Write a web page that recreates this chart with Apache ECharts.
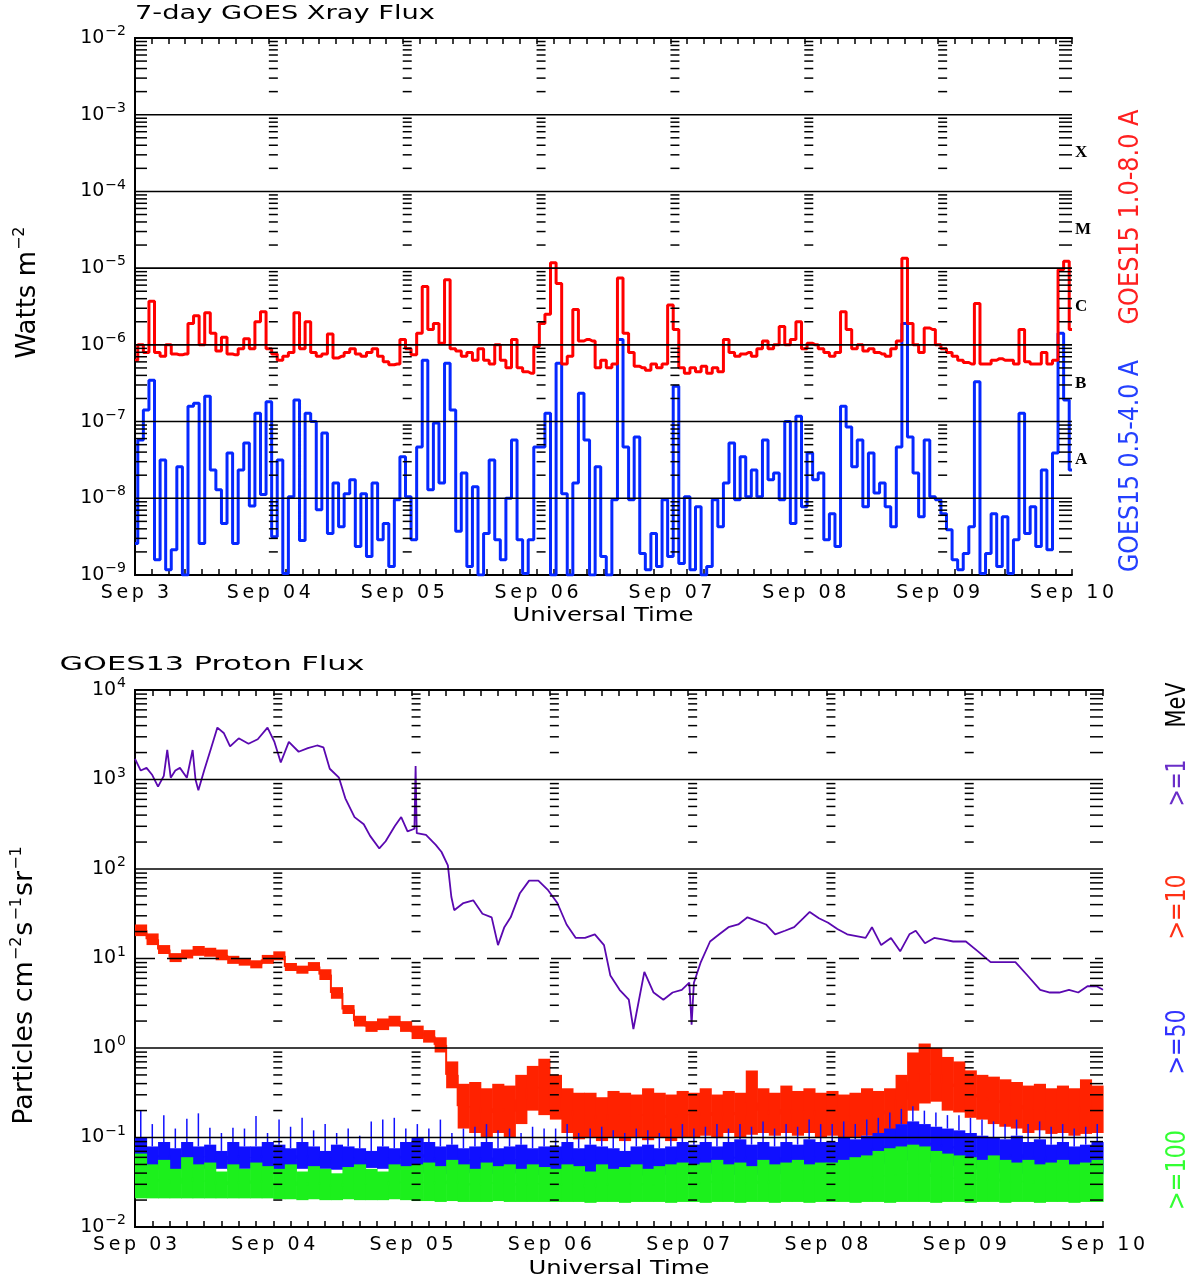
<!DOCTYPE html>
<html>
<head>
<meta charset="utf-8">
<title>GOES Xray / Proton Flux</title>
<script src="https://cdn.jsdelivr.net/npm/echarts@6/dist/echarts.min.js"></script>
<style>
    html, body { margin: 0; padding: 0; background: #fff; }
    #chart { width: 1196px; height: 1281px; }
</style>
</head>
<body>
<div id="chart"></div>
<script>
/* ========== data (log10 values, hours from Sep 3 00:00 UT) ========== */

const xrayDays = ["Sep 3", "Sep 04", "Sep 05", "Sep 06", "Sep 07", "Sep 08", "Sep 09", "Sep 10"];
const protonDays = ["Sep 03", "Sep 04", "Sep 05", "Sep 06", "Sep 07", "Sep 08", "Sep 09", "Sep 10"];
const flareClasses = [["X", -3.5], ["M", -4.5], ["C", -5.5], ["B", -6.5], ["A", -7.5]];
const xrayDecades = [-8, -7, -6, -5, -4, -3];
const protonDecades = [3, 2, 1, 0, -1];
const protonDashed = [1];

// GOES15 1.0-8.0 A, hourly
const xrayLong = [
    -6.20, -6.00, -6.10, -5.43, -6.10, -6.15, -6.00, -6.12, -6.13, -6.12,
    -5.72, -5.62, -6.00, -5.58, -5.85, -6.08, -5.90, -6.12, -6.13, -6.05,
    -5.92, -6.05, -5.70, -5.57, -6.05, -6.12, -6.20, -6.15, -6.10, -5.58,
    -6.05, -5.70, -6.10, -6.15, -6.12, -5.86, -6.17, -6.15, -6.10, -6.05,
    -6.12, -6.15, -6.10, -6.05, -6.15, -6.22, -6.26, -6.25, -5.93, -6.05,
    -6.13, -5.85, -5.24, -5.80, -5.72, -5.98, -5.15, -6.05, -6.08, -6.15,
    -6.10, -6.20, -6.05, -6.20, -6.25, -6.00, -6.20, -6.30, -5.93, -6.30,
    -6.35, -6.37, -6.02, -5.72, -5.60, -4.93, -5.20, -6.25, -6.15, -5.54,
    -5.95, -5.93, -5.95, -6.30, -6.20, -6.30, -6.25, -5.13, -5.85, -6.10,
    -6.28, -6.30, -6.33, -6.25, -6.30, -6.25, -5.48, -5.80, -6.30, -6.37,
    -6.30, -6.35, -6.28, -6.37, -6.30, -6.35, -5.93, -6.10, -6.15, -6.12,
    -6.10, -6.15, -6.05, -5.95, -6.05, -6.00, -5.76, -6.00, -5.93, -5.70,
    -6.05, -5.98, -6.00, -6.05, -6.10, -6.15, -6.10, -5.57, -5.80, -6.05,
    -6.00, -6.08, -6.05, -6.10, -6.12, -6.15, -6.05, -5.95, -4.87, -5.72,
    -6.00, -6.10, -5.78, -5.80, -6.00, -6.05, -6.10, -6.15, -6.20, -6.23,
    -6.25, -5.46, -6.25, -6.25, -6.20, -6.18, -6.20, -6.20, -6.25, -5.80,
    -6.22, -6.25, -6.25, -6.10, -6.25, -6.20, -5.02, -4.91, -5.80
];

// GOES15 0.5-4.0 A, hourly
const xrayShort = [
    -8.59, -7.24, -6.85, -6.46, -8.80, -7.50, -8.93, -8.67, -7.59, -9.00,
    -6.80, -6.76, -8.59, -6.67, -7.63, -7.89, -8.33, -7.41, -8.59, -7.63,
    -7.28, -8.10, -6.89, -7.95, -6.74, -8.50, -7.50, -8.98, -7.98, -6.72,
    -8.55, -6.89, -7.00, -8.15, -7.15, -8.46, -7.80, -8.37, -7.94, -7.76,
    -8.63, -7.94, -8.76, -7.80, -8.54, -8.33, -8.89, -8.02, -7.46, -7.98,
    -8.54, -7.33, -6.20, -7.89, -7.02, -7.80, -6.24, -6.85, -8.43, -7.67,
    -8.89, -7.85, -9.00, -8.46, -7.50, -8.54, -8.80, -8.00, -7.24, -8.54,
    -8.98, -8.54, -7.33, -7.33, -6.89, -9.00, -6.24, -7.94, -9.00, -7.80,
    -6.63, -7.24, -9.00, -7.59, -8.76, -9.00, -8.02, -5.93, -7.33, -8.02,
    -7.20, -8.72, -8.93, -8.46, -8.89, -8.02, -8.76, -6.54, -8.85, -7.98,
    -8.93, -8.11, -9.00, -8.89, -8.02, -8.37, -7.80, -7.28, -8.02, -7.46,
    -7.98, -7.63, -7.98, -7.24, -7.76, -7.67, -8.02, -7.00, -8.33, -6.93,
    -8.11, -7.41, -7.76, -7.67, -8.54, -8.20, -8.63, -6.80, -7.07, -7.59,
    -7.24, -8.11, -7.41, -7.93, -7.80, -8.11, -8.37, -7.33, -5.72, -7.20,
    -7.67, -8.24, -7.24, -7.98, -8.02, -8.20, -8.41, -8.80, -8.93, -8.72,
    -8.37, -6.48, -8.98, -8.72, -8.20, -8.89, -8.24, -8.98, -8.54, -6.89,
    -8.46, -8.11, -8.63, -7.63, -8.67, -7.41, -5.85, -6.72, -7.63
];

// GOES13 >=1 MeV, [hour, log10 flux]
const proton1 = [
    [0, 3.23], [1, 3.10], [2, 3.13], [3, 3.05], [4, 2.92], [5, 3.04], [5.6, 3.33], [6.2, 3.02], [7, 3.10], [7.8, 3.13],
    [9, 3.02], [10, 3.33], [10.5, 3.00], [11, 2.88], [12, 3.10], [13.2, 3.35], [14.3, 3.58], [15.4, 3.52], [16.5, 3.37], [18, 3.46],
    [19.7, 3.40], [21.3, 3.45], [23, 3.58], [24.2, 3.42], [25.3, 3.19], [26.7, 3.42], [28.4, 3.31], [30, 3.35], [31.6, 3.38], [32.7, 3.36],
    [33.8, 3.12], [35.4, 3.02], [36.5, 2.79], [38.1, 2.58], [39.7, 2.50], [40.8, 2.37], [42.4, 2.23], [43.5, 2.31], [45.1, 2.48], [46.2, 2.58],
    [47.3, 2.42], [48.5, 2.45], [48.7, 3.15], [48.9, 2.40], [50.5, 2.38], [52.2, 2.27], [53.2, 2.19], [54.3, 2.04], [54.9, 1.69], [55.4, 1.54],
    [57, 1.62], [58.7, 1.65], [60.3, 1.50], [61.9, 1.46], [63, 1.15], [64.1, 1.35], [65.2, 1.46], [66.8, 1.73], [68.4, 1.87], [70, 1.87],
    [71.6, 1.77], [73.3, 1.62], [74.9, 1.38], [76.5, 1.23], [78.1, 1.23], [79.8, 1.27], [81.4, 1.15], [82.5, 0.81], [84.1, 0.65], [85.7, 0.54],
    [86.5, 0.21], [87, 0.38], [88.4, 0.85], [90, 0.62], [91.7, 0.54], [93.3, 0.62], [94.9, 0.65], [96.2, 0.73], [96.6, 0.26], [97, 0.73],
    [98.2, 0.96], [99.8, 1.19], [101.4, 1.27], [103, 1.35], [104.7, 1.38], [106.3, 1.46], [107.9, 1.42], [109.5, 1.38], [111.1, 1.27], [112.8, 1.31],
    [114.4, 1.35], [116, 1.45], [117.1, 1.52], [118.7, 1.45], [120.3, 1.40], [121.9, 1.33], [123.6, 1.27], [125.2, 1.25], [126.8, 1.23], [127.9, 1.35],
    [129.5, 1.15], [131.2, 1.23], [132.8, 1.08], [134.4, 1.27], [135.5, 1.31], [137.1, 1.17], [138.7, 1.23], [140.4, 1.21], [142, 1.19], [144.2, 1.19],
    [146.3, 1.08], [148.5, 0.96], [150.6, 0.96], [152.8, 0.96], [154.9, 0.81], [157.1, 0.65], [158.8, 0.62], [160.4, 0.62], [162.1, 0.65], [163.7, 0.62],
    [165.3, 0.69], [166.9, 0.69], [168, 0.65]
];

// >=10 MeV, 2-hour bins: low / high of the noisy trace (one row per day)
const proton10Lo = [
    1.25, 1.15, 1.05, 0.96, 1.00, 1.03, 1.02, 0.98, 0.94, 0.92, 0.89, 0.94,
    0.98, 0.86, 0.83, 0.86, 0.76, 0.55, 0.38, 0.24, 0.18, 0.20, 0.24, 0.18,
    0.10, 0.06, -0.05, -0.45, -0.90, -0.95, -1.00, -0.95, -1.00, -0.85, -0.70, -0.75,
    -0.80, -0.95, -1.02, -1.00, -1.04, -1.00, -1.04, -1.00, -1.03, -1.00, -1.04, -1.00,
    -1.00, -0.98, -1.00, -0.95, -1.00, -0.97, -0.95, -0.98, -0.95, -0.98, -0.95, -1.00,
    -0.98, -1.00, -1.00, -0.98, -1.00, -0.95, -0.85, -0.70, -0.62, -0.60, -0.70, -0.72,
    -0.78, -0.80, -0.85, -0.88, -0.90, -0.95, -0.92, -0.96, -0.95, -0.98, -0.96, -0.95
];
const proton10Hi = [
    1.38, 1.28, 1.15, 1.06, 1.10, 1.14, 1.12, 1.10, 1.03, 1.00, 0.98, 1.04,
    1.08, 0.95, 0.92, 0.96, 0.88, 0.68, 0.48, 0.36, 0.30, 0.33, 0.36, 0.30,
    0.25, 0.20, 0.12, -0.15, -0.40, -0.38, -0.45, -0.40, -0.42, -0.30, -0.20, -0.12,
    -0.30, -0.45, -0.50, -0.50, -0.55, -0.48, -0.50, -0.52, -0.45, -0.50, -0.52, -0.48,
    -0.50, -0.45, -0.52, -0.48, -0.50, -0.25, -0.45, -0.50, -0.42, -0.48, -0.45, -0.50,
    -0.48, -0.52, -0.50, -0.45, -0.48, -0.45, -0.30, -0.05, 0.05, 0.00, -0.10, -0.15,
    -0.25, -0.30, -0.32, -0.35, -0.38, -0.42, -0.40, -0.45, -0.42, -0.45, -0.35, -0.42
];

// >=50 MeV, 2-hour bins: floor / body top / spike top
const proton50Lo = [
    -1.35, -1.34, -1.35, -1.36, -1.35, -1.34, -1.35, -1.35, -1.36, -1.35, -1.34, -1.35,
    -1.36, -1.35, -1.35, -1.34, -1.35, -1.36, -1.35, -1.35, -1.34, -1.35, -1.35, -1.36,
    -1.38, -1.40, -1.40, -1.41, -1.40, -1.39, -1.40, -1.41, -1.40, -1.40, -1.42, -1.40,
    -1.41, -1.42, -1.40, -1.42, -1.41, -1.42, -1.42, -1.43, -1.42, -1.41, -1.42, -1.42,
    -1.42, -1.41, -1.40, -1.42, -1.41, -1.40, -1.42, -1.41, -1.40, -1.41, -1.40, -1.39,
    -1.38, -1.36, -1.35, -1.32, -1.30, -1.28, -1.26, -1.25, -1.27, -1.28, -1.30, -1.32,
    -1.34, -1.36, -1.38, -1.40, -1.40, -1.41, -1.40, -1.42, -1.41, -1.40, -1.42, -1.41
];
const proton50Hi = [
    -1.00, -1.10, -1.05, -1.12, -1.05, -1.10, -1.08, -1.15, -1.05, -1.10, -1.10, -1.05,
    -1.08, -1.12, -1.05, -1.10, -1.15, -1.08, -1.10, -1.12, -1.15, -1.10, -1.12, -1.05,
    -1.00, -1.05, -1.10, -1.08, -1.12, -1.10, -1.05, -1.12, -1.10, -1.08, -1.12, -1.10,
    -1.10, -1.05, -1.12, -1.08, -1.10, -1.12, -1.15, -1.10, -1.08, -1.12, -1.10, -1.05,
    -1.08, -1.05, -1.10, -1.05, -1.02, -1.08, -1.05, -1.10, -1.05, -1.08, -1.02, -1.05,
    -1.05, -1.00, -1.02, -0.98, -0.95, -0.90, -0.85, -0.82, -0.85, -0.88, -0.90, -0.92,
    -0.95, -0.98, -1.00, -1.02, -0.98, -1.05, -1.02, -1.08, -1.05, -1.10, -1.08, -1.05
];
const proton50Peak = [
    -0.70, -0.85, -0.75, -0.90, -0.79, -0.73, -0.89, -0.95, -0.89, -0.90, -0.76, -0.95,
    -0.80, -0.88, -0.78, -0.92, -0.85, -0.95, -0.90, -0.98, -0.82, -0.80, -0.78, -0.90,
    -0.85, -0.90, -0.80, -0.95, -0.90, -0.88, -0.85, -0.92, -0.90, -0.95, -0.88, -0.90,
    -0.90, -0.85, -0.95, -0.90, -0.88, -0.92, -0.95, -0.90, -0.92, -0.95, -0.90, -0.85,
    -0.90, -0.88, -0.85, -0.90, -0.85, -0.88, -0.82, -0.90, -0.85, -0.88, -0.80, -0.85,
    -0.85, -0.82, -0.85, -0.80, -0.78, -0.72, -0.68, -0.65, -0.70, -0.72, -0.75, -0.75,
    -0.78, -0.80, -0.82, -0.85, -0.80, -0.85, -0.82, -0.88, -0.85, -0.90, -0.88, -0.85
];

// >=100 MeV, 2-hour bins: floor / top
const proton100Lo = [
    -1.68, -1.68, -1.68, -1.68, -1.68, -1.68, -1.68, -1.68, -1.68, -1.68, -1.68, -1.68,
    -1.69, -1.69, -1.70, -1.69, -1.70, -1.70, -1.69, -1.70, -1.70, -1.70, -1.69, -1.70,
    -1.71, -1.71, -1.72, -1.71, -1.72, -1.72, -1.72, -1.71, -1.72, -1.72, -1.72, -1.72,
    -1.72, -1.72, -1.72, -1.73, -1.72, -1.72, -1.73, -1.72, -1.72, -1.72, -1.73, -1.72,
    -1.72, -1.73, -1.72, -1.72, -1.73, -1.72, -1.72, -1.73, -1.72, -1.72, -1.73, -1.72,
    -1.72, -1.72, -1.73, -1.72, -1.72, -1.73, -1.72, -1.72, -1.72, -1.73, -1.72, -1.72,
    -1.73, -1.72, -1.72, -1.73, -1.72, -1.72, -1.73, -1.72, -1.72, -1.73, -1.72, -1.72
];
const proton100Hi = [
    -1.18, -1.30, -1.25, -1.35, -1.22, -1.30, -1.28, -1.38, -1.30, -1.35, -1.28, -1.32,
    -1.35, -1.30, -1.38, -1.32, -1.35, -1.40, -1.33, -1.30, -1.35, -1.38, -1.30, -1.32,
    -1.30, -1.28, -1.32, -1.25, -1.30, -1.35, -1.28, -1.32, -1.30, -1.35, -1.30, -1.33,
    -1.35, -1.30, -1.32, -1.38, -1.30, -1.35, -1.33, -1.30, -1.35, -1.32, -1.30, -1.28,
    -1.30, -1.28, -1.25, -1.30, -1.28, -1.32, -1.25, -1.30, -1.28, -1.25, -1.30, -1.28,
    -1.28, -1.25, -1.22, -1.20, -1.15, -1.12, -1.10, -1.08, -1.10, -1.15, -1.18, -1.20,
    -1.22, -1.25, -1.20, -1.25, -1.28, -1.25, -1.30, -1.28, -1.25, -1.30, -1.28, -1.25
];

/* ========== helpers ========== */

const FONT = "DejaVu Sans";
const HOURS = 168;
const BIN = 2;
const pow10 = (v) => Math.pow(10, v);

function spaced(text) {
    return text.split("").map(c => `{c|${c}}`).join("");
}

function expLabel(v) {
    const e = Math.round(Math.log10(v));
    return `{b|10}{s|${e < 0 ? "\u2212" + (-e) : e}}`;
}

const measureCtx = document.createElement("canvas").getContext("2d");
function fitScale(text, size, width) {
    measureCtx.font = `${size}px "${FONT}"`;
    return width / measureCtx.measureText(text).width;
}

function textEl(text, x, y, size, width, color, vertical) {
    return {
        type: "text", x: x, y: y, silent: true,
        rotation: vertical ? Math.PI / 2 : 0,
        scaleX: fitScale(text, size, width),
        style: { text: text, fill: color, fontSize: size, fontFamily: FONT, align: "center", verticalAlign: "middle" }
    };
}

function richName(text, x, y, size) {
    return {
        type: "text", x: x, y: y, silent: true, rotation: Math.PI / 2,
        style: {
            text: text, fill: "#000", align: "center", verticalAlign: "middle",
            rich: {
                a: { fontSize: size, fontFamily: FONT },
                s: { fontSize: Math.round(size * 0.6), fontFamily: FONT, padding: [0, 1, Math.round(size * 0.6), 1] }
            }
        }
    };
}

const blackLine = { show: true, lineStyle: { color: "#000", width: 2 } };

function timeAxis(grid, labels, position) {
    const bottom = position === "bottom";
    return {
        type: "value", gridIndex: grid, position: position,
        min: 0, max: HOURS, interval: 24,
        axisLine: blackLine,
        axisTick: { show: true, inside: true, length: 6, lineStyle: { color: "#000", width: 1.5 } },
        minorTick: { show: true, splitNumber: 8, length: 6, lineStyle: { color: "#000", width: 1.5 } },
        splitLine: { show: false },
        axisLabel: bottom ? {
            margin: 9,
            formatter: (v) => spaced(labels[Math.round(v / 24)]),
            rich: { c: { fontSize: 19, fontFamily: FONT, color: "#000", padding: [0, 1.8, 0, 1.8] } }
        } : { show: false }
    };
}

function logAxis(grid, min, max) {
    return {
        type: "log", logBase: 10, gridIndex: grid, position: "left",
        min: min, max: max,
        axisLine: blackLine,
        axisTick: { show: false },
        splitLine: { show: false },
        axisLabel: {
            margin: 9, color: "#000",
            formatter: expLabel,
            rich: {
                b: { fontSize: 19, fontFamily: FONT, color: "#000" },
                s: { fontSize: 14, fontFamily: FONT, color: "#000", padding: [0, 0, 13, 1] }
            }
        }
    };
}

// short y ticks at the box edges and at every day line
function renderMinorTicks(params, api) {
    const v = api.value(1);
    const seg = (x, y, len) => ({
        type: "line", shape: { x1: x, y1: y, x2: x + len, y2: y },
        style: { stroke: "#000", lineWidth: 1.5 }
    });
    const l = api.coord([0, v]);
    const r = api.coord([HOURS, v]);
    const children = [seg(l[0], l[1], 12), seg(r[0], r[1], -13)];
    for (let d = 1; d < 7; d++) {
        const p = api.coord([d * 24, v]);
        children.push(seg(p[0], p[1], 9));
    }
    return { type: "group", children: children };
}

function renderGridLine(params, api) {
    const a = api.coord([0, api.value(1)]);
    const b = api.coord([HOURS, api.value(1)]);
    return {
        type: "line",
        shape: { x1: a[0], y1: a[1], x2: b[0], y2: b[1] },
        style: { stroke: "#000", lineWidth: 1.6, lineDash: api.value(2) ? [20, 12] : null }
    };
}

// noisy band: floor..top filled per bin, joined to the previous bin, thin spike up to peak
function bandRenderer(rows) {
    return function (params, api) {
        const t = api.value(0);
        const lo = api.coord([t, api.value(1)]);
        const hi = api.coord([t + BIN, api.value(2)]);
        const color = api.visual("color");
        const children = [{
            type: "rect",
            shape: { x: lo[0], y: hi[1], width: hi[0] - lo[0] + 0.6, height: Math.max(lo[1] - hi[1], 3) },
            style: { fill: color }
        }];
        const prev = rows[params.dataIndex - 1];
        if (prev) {
            const a = api.coord([t, Math.sqrt(prev[1] * prev[2])]);
            const b = api.coord([t, Math.sqrt(api.value(1) * api.value(2))]);
            children.push({
                type: "line", shape: { x1: a[0], y1: a[1], x2: b[0], y2: b[1] },
                style: { stroke: color, lineWidth: 2 }
            });
        }
        const peak = api.value(3);
        if (peak > 0) {
            const p = api.coord([t + BIN / 2, peak]);
            children.push({
                type: "line", shape: { x1: p[0], y1: hi[1], x2: p[0], y2: p[1] },
                style: { stroke: color, lineWidth: 1.5 }
            });
        }
        return { type: "group", children: children };
    };
}

function minorTickData(lo, hi) {
    const out = [];
    for (let e = lo; e < hi; e++) {
        for (let k = 2; k <= 9; k++) out.push([0, k * Math.pow(10, e)]);
    }
    return out;
}

/* ========== series data ========== */

const xrayLongData = xrayLong.map((v, i) => [i, pow10(v)]);
const xrayShortData = xrayShort.map((v, i) => [i, pow10(v)]);
const proton1Data = proton1.map(p => [p[0], pow10(p[1])]);
const proton10Data = proton10Lo.map((lo, k) => [k * BIN, pow10(lo), pow10(proton10Hi[k])]);
const proton50Data = proton50Lo.map((lo, k) => [k * BIN, pow10(lo), pow10(proton50Hi[k]), pow10(proton50Peak[k])]);
const proton100Data = proton100Lo.map((lo, k) => [k * BIN, pow10(lo), pow10(proton100Hi[k])]);

/* ========== chart ========== */

const chart = echarts.init(document.getElementById("chart"));

chart.setOption({
    animation: false,
    backgroundColor: "#fff",
    grid: [
        { left: 135, top: 38, width: 937, height: 537, outerBoundsMode: "none" },
        { left: 135, top: 690, width: 968, height: 537, outerBoundsMode: "none" }
    ],
    xAxis: [
        timeAxis(0, xrayDays, "bottom"),
        timeAxis(0, xrayDays, "top"),
        timeAxis(1, protonDays, "bottom"),
        timeAxis(1, protonDays, "top")
    ],
    yAxis: [
        logAxis(0, 1e-9, 1e-2),
        {
            type: "value", gridIndex: 0, position: "right", min: -9, max: -2, interval: 0.5,
            axisLine: blackLine, axisTick: { show: false }, splitLine: { show: false },
            axisLabel: {
                margin: 3, color: "#000", fontFamily: "Liberation Serif", fontWeight: "bold", fontSize: 17,
                formatter: (v) => {
                    const c = flareClasses.find(f => Math.abs(f[1] - v) < 1e-6);
                    return c ? c[0] : "";
                }
            }
        },
        logAxis(1, 1e-2, 1e4),
        {
            type: "value", gridIndex: 1, position: "right", min: 0, max: 1,
            axisLine: blackLine, axisTick: { show: false }, splitLine: { show: false }, axisLabel: { show: false }
        }
    ],
    series: [
        {
            name: "GOES15 1.0-8.0 A", type: "line", xAxisIndex: 0, yAxisIndex: 0, step: "middle",
            data: xrayLongData, symbol: "none", lineStyle: { color: "#ff0000", width: 3 }, z: 3
        },
        {
            name: "GOES15 0.5-4.0 A", type: "line", xAxisIndex: 0, yAxisIndex: 0, step: "middle",
            data: xrayShortData, symbol: "none", lineStyle: { color: "#0628ff", width: 3 }, z: 2
        },
        {
            type: "custom", xAxisIndex: 0, yAxisIndex: 0, silent: true, z: 5,
            renderItem: renderGridLine, data: xrayDecades.map(e => [0, pow10(e), 0])
        },
        {
            type: "custom", xAxisIndex: 0, yAxisIndex: 0, silent: true, z: 5,
            renderItem: renderMinorTicks, data: minorTickData(-9, -2)
        },
        {
            name: ">=1 MeV", type: "line", xAxisIndex: 2, yAxisIndex: 2,
            data: proton1Data, symbol: "none", lineStyle: { color: "#5a08b0", width: 1.8 }, z: 2
        },
        {
            name: ">=10 MeV", type: "custom", xAxisIndex: 2, yAxisIndex: 2, silent: true, z: 2,
            itemStyle: { color: "#ff2200" }, renderItem: bandRenderer(proton10Data), data: proton10Data,
            encode: { x: 0, y: [1, 2] }
        },
        {
            name: ">=50 MeV", type: "custom", xAxisIndex: 2, yAxisIndex: 2, silent: true, z: 3,
            itemStyle: { color: "#1010ff" }, renderItem: bandRenderer(proton50Data), data: proton50Data,
            encode: { x: 0, y: [1, 2, 3] }
        },
        {
            name: ">=100 MeV", type: "custom", xAxisIndex: 2, yAxisIndex: 2, silent: true, z: 4,
            itemStyle: { color: "#1cf01c" }, renderItem: bandRenderer(proton100Data), data: proton100Data,
            encode: { x: 0, y: [1, 2] }
        },
        {
            type: "custom", xAxisIndex: 2, yAxisIndex: 2, silent: true, z: 5,
            renderItem: renderGridLine,
            data: protonDecades.map(e => [0, pow10(e), protonDashed.includes(e) ? 1 : 0])
        },
        {
            type: "custom", xAxisIndex: 2, yAxisIndex: 2, silent: true, z: 5,
            renderItem: renderMinorTicks, data: minorTickData(-2, 4)
        }
    ],
    graphic: [
        textEl("7-day GOES Xray Flux", 285, 14, 20, 300, "#000"),
        textEl("Universal Time", 603, 616, 19, 181, "#000"),
        textEl("GOES13 Proton Flux", 212, 665, 20, 305, "#000"),
        textEl("Universal Time", 619, 1269, 19, 181, "#000"),
        richName("{a|Watts m}{s|\u22122}", 28, 292, 26),
        richName("{a|Particles cm}{s|\u22122}{a|s}{s|\u22121}{a|sr}{s|\u22121}", 25, 985, 27),
        textEl("GOES15 1.0-8.0 A", 1131, 217, 27, 215, "#ff2020", true),
        textEl("GOES15 0.5-4.0 A", 1131, 466, 27, 212, "#2440ff", true),
        textEl("MeV", 1178, 705, 27, 45, "#000", true),
        textEl(">=1", 1178, 783, 27, 47, "#6a2ec8", true),
        textEl(">=10", 1178, 907, 27, 65, "#ff3015", true),
        textEl(">=50", 1178, 1042, 27, 65, "#3232ff", true),
        textEl(">=100", 1178, 1170, 27, 80, "#33ff33", true)
    ]
});
</script>
</body>
</html>
